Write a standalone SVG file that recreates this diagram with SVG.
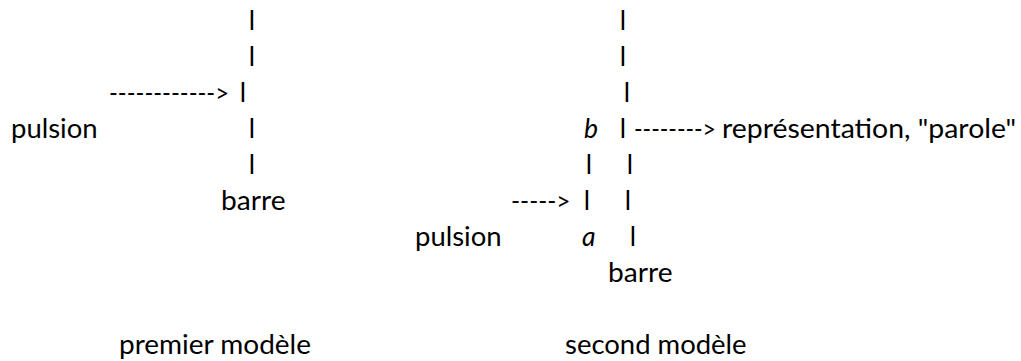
<svg xmlns="http://www.w3.org/2000/svg" width="1021" height="361" viewBox="0 0 1021 361">
<style>
text{font-family:Lato,"Open Sans","Liberation Sans",sans-serif;font-size:26.5px;fill:#000}
.bar{text-anchor:middle}
.it{font-style:italic}
.arr{font-size:24.5px}
</style>
<rect width="1021" height="361" fill="#fff"/>
<g id="premier-modele">
<text class="bar" x="252" y="30">l</text>
<text class="bar" x="252" y="66">l</text>
<text class="bar" x="243" y="102">l</text>
<text class="bar" x="252" y="138">l</text>
<text class="bar" x="252" y="174">l</text>
<text x="221" y="210" textLength="64.5" lengthAdjust="spacingAndGlyphs">barre</text>
<text x="11" y="138" textLength="86.6" lengthAdjust="spacingAndGlyphs">pulsion</text>
</g>
<g id="second-modele">
<text class="bar" x="623" y="30">l</text>
<text class="bar" x="623" y="66">l</text>
<text class="bar" x="627" y="102">l</text>
<text class="it" x="584" y="138">b</text>
<text class="bar" x="623" y="138">l</text>
<text x="722" y="138" textLength="294" lengthAdjust="spacingAndGlyphs">représentation, "parole"</text>
<text class="bar" x="589" y="174">l</text>
<text class="bar" x="630" y="174">l</text>
<text class="bar" x="587" y="210">l</text>
<text class="bar" x="628" y="210">l</text>
<text x="415" y="246" textLength="86.6" lengthAdjust="spacingAndGlyphs">pulsion</text>
<text class="it" x="582" y="246">a</text>
<text class="bar" x="633" y="246">l</text>
<text x="608" y="282" textLength="64.5" lengthAdjust="spacingAndGlyphs">barre</text>
</g>
<g id="connectors">
<text class="arr" x="109" y="102" textLength="120" lengthAdjust="spacingAndGlyphs">------------&gt;</text>
<text class="arr" x="634" y="138" textLength="82" lengthAdjust="spacingAndGlyphs">--------&gt;</text>
<text class="arr" x="511" y="210" textLength="59.5" lengthAdjust="spacingAndGlyphs">-----&gt;</text>
</g>
<g id="legendes">
<text x="119" y="354" textLength="192" lengthAdjust="spacingAndGlyphs">premier modèle</text>
<text x="565" y="354" textLength="181.6" lengthAdjust="spacingAndGlyphs">second modèle</text>
</g>
</svg>
